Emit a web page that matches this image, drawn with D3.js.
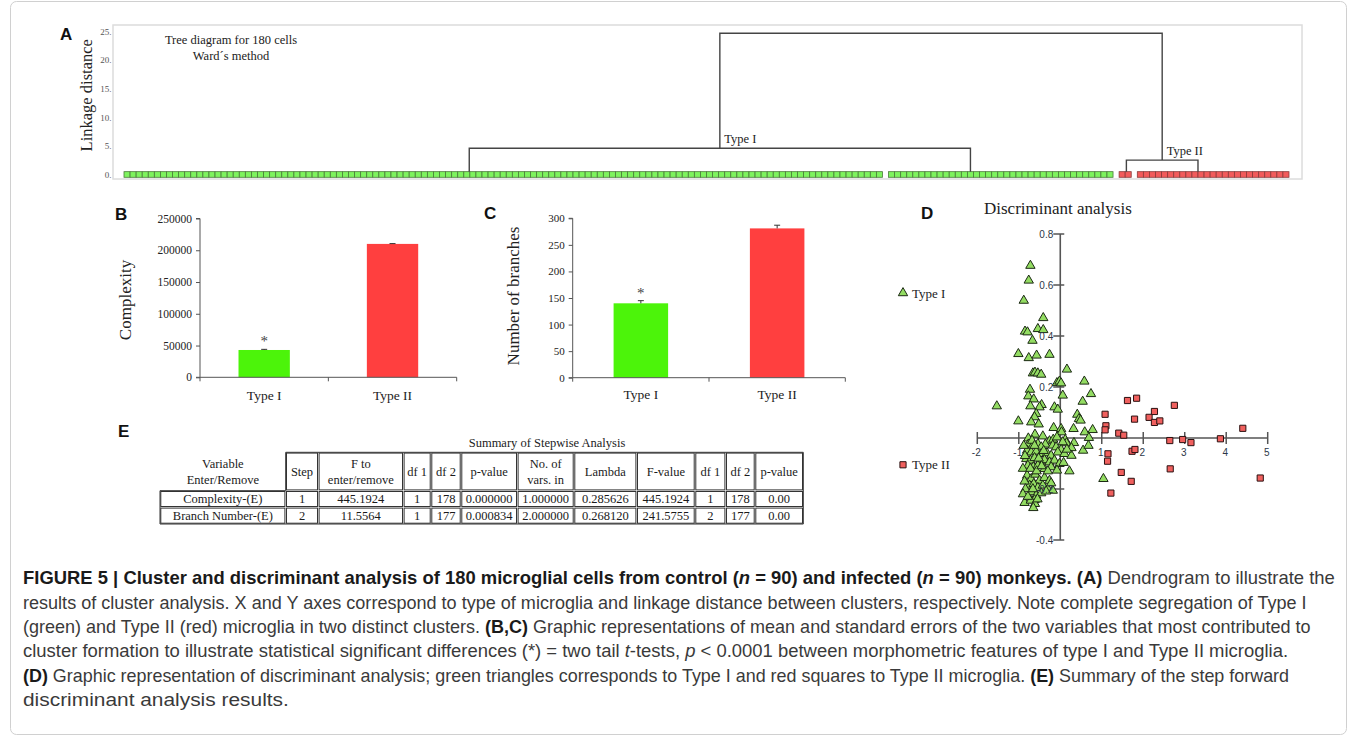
<!DOCTYPE html>
<html><head><meta charset="utf-8">
<script src="https://cdn.jsdelivr.net/npm/d3@7"></script>
<style>body{margin:0;background:#fff}svg{display:block}text{white-space:pre}</style>
</head><body>
<svg id="fig" width="1358" height="736"></svg>
<script>
// ---------- DATA ----------
// Panel A: dendrogram
const leafGroupCounts = [125, 37, 2, 25];
const leafGroupTypes = ["Type I", "Type I", "Type II", "Type II"];
const clusterNames = ["Type I", "Type II"];
const clusterLeftLeaf = [56.9, 165.2];
const clusterRightLeaf = [139.5, 177.0];
const clusterHeights = [4.65, 2.6];
const rootHeight = 24.7;
const linkageTicks = [0, 5, 10, 15, 20, 25];

// Panels B, C: bars
const barCategories = ["Type I", "Type II"];
const complexityMeans = [43000, 210000];
const complexitySE = [1000, 500];
const complexityTicks = [0, 50000, 100000, 150000, 200000, 250000];
const branchMeans = [140, 281];
const branchSE = [5, 6];
const branchTicks = [0, 50, 100, 150, 200, 250, 300];

// Panel D: discriminant scatter
const typeIPoints = [
 [-0.72,0.676],[-0.76,0.618],[-0.88,0.539],[-0.41,0.471],[-0.85,0.418],[-0.79,0.415],[-0.54,0.428],[-0.41,0.424],
 [-0.67,0.382],[-1.01,0.330],[-0.76,0.314],[-0.57,0.324],[-0.26,0.327],[0.16,0.269],[-0.66,0.254],[-0.61,0.257],
 [-0.54,0.254],[-0.46,0.249],[-0.08,0.216],[-0.02,0.222],[0.02,0.215],[0.58,0.222],[0.74,0.173],[0.06,0.167],
 [-0.73,0.190],[-0.77,0.164],[-0.64,0.152],[-0.72,0.125],[-1.53,0.125],[-0.45,0.130],[-0.50,0.121],[-0.14,0.121],
 [-0.06,0.112],[0.54,0.143],[-0.58,0.095],[-0.62,0.082],[-1.01,0.066],[-0.70,0.062],[-0.52,0.054],[0.41,0.092],
 [0.45,0.075],[0.49,0.069],[-0.16,0.040],[0.02,0.036],[0.03,0.023],[0.32,0.036],[0.59,0.023],[0.78,0.032],[0.69,0.001],
 [-0.61,0.014],[-0.77,-0.001],[-0.42,0.007],[-0.26,-0.012],[-0.17,-0.006],[-0.08,0.003],[0.12,-0.007],[0.15,-0.020],
 [0.33,-0.019],[0.06,-0.016],[-0.77,-0.025],[-0.66,-0.029],[-0.54,-0.023],[-0.36,-0.025],[-0.46,-0.036],[-0.18,-0.029],
 [-0.10,-0.036],[0.02,-0.046],[0.27,-0.039],[0.55,-0.049],[-0.80,-0.049],[-0.70,-0.056],[-0.58,-0.053],[-0.46,-0.062],
 [-0.32,-0.059],[-0.22,-0.069],[-0.06,-0.056],[0.10,-0.062],[0.27,-0.069],[-0.82,-0.082],[-0.72,-0.088],[-0.62,-0.078],
 [-0.50,-0.095],[-0.38,-0.086],[-0.26,-0.095],[-0.14,-0.088],[-0.02,-0.101],[0.08,-0.097],[-0.78,-0.108],[-0.65,-0.114],
 [-0.54,-0.108],[-0.38,-0.121],[-0.22,-0.114],[-0.08,-0.127],[0.22,-0.130],[-0.80,-0.147],[-0.70,-0.160],[-0.60,-0.143],
 [-0.50,-0.167],[-0.38,-0.156],[-0.26,-0.167],[-0.74,-0.186],[-0.64,-0.180],[-0.54,-0.195],[-0.42,-0.186],[-0.30,-0.199],
 [-0.18,-0.206],[-0.22,-0.177],[-0.70,-0.212],[-0.58,-0.225],[-0.46,-0.216],[-0.34,-0.209],[-0.86,-0.254],[-0.62,-0.243],
 [-0.71,-0.245],[-0.61,-0.258],[-0.65,-0.274],[0.68,-0.030],[0.16,-0.045],[1.04,-0.160],
 [-0.88,-0.030],[-0.85,-0.070],[-0.90,-0.120],[-0.86,-0.170],[-0.84,-0.200],[-0.68,-0.010],[-0.72,-0.120],[-0.66,-0.200],
 [-0.57,-0.130],[-0.52,-0.080],[-0.90,-0.220],[-0.78,-0.230],[-0.55,-0.240],[-0.62,-0.030],[-0.45,-0.110],[-0.40,-0.050],[-0.30,-0.130]
];
const typeIIPoints = [
 [1.62,0.147],[1.84,0.156],[2.75,0.128],[1.08,0.093],[1.79,0.074],[2.27,0.104],[2.14,0.081],[2.27,0.061],[2.40,0.067],
 [1.10,0.048],[1.08,0.032],[1.41,0.019],[1.53,0.011],[4.40,0.038],[2.64,-0.010],[2.95,-0.006],[3.15,-0.018],[3.86,-0.003],
 [1.15,-0.062],[1.73,-0.052],[1.80,-0.045],[1.14,-0.091],[2.65,-0.121],[1.47,-0.135],[1.71,-0.170],[4.82,-0.157],[1.22,-0.216]
];
const discXTicks = [-2, -1, 0, 1, 2, 3, 4, 5];
const discYTicks = [-0.4, -0.2, 0, 0.2, 0.4, 0.6, 0.8];

// Panel E: table
const tableTitle = "Summary of Stepwise Analysis";
const tableHeaders = [["Variable","Enter/Remove"],["Step"],["F to","enter/remove"],["df 1"],["df 2"],["p-value"],["No. of","vars. in"],["Lambda"],["F-value"],["df 1"],["df 2"],["p-value"]];
const tableRows = [
 ["Complexity-(E)","1","445.1924","1","178","0.000000","1.000000","0.285626","445.1924","1","178","0.00"],
 ["Branch Number-(E)","2","11.5564","1","177","0.000834","2.000000","0.268120","241.5755","2","177","0.00"]
];

// Caption
const captionLines = [
 [["FIGURE 5 | Cluster and discriminant analysis of 180 microglial cells from control (","b"],["n","bi"],[" = 90) and infected (","b"],["n","bi"],[" = 90) monkeys. (A)","b"],[" Dendrogram to illustrate the",""]],
 [["results of cluster analysis. X and Y axes correspond to type of microglia and linkage distance between clusters, respectively. Note complete segregation of Type I",""]],
 [["(green) and Type II (red) microglia in two distinct clusters. ",""],["(B,C)","b"],[" Graphic representations of mean and standard errors of the two variables that most contributed to",""]],
 [["cluster formation to illustrate statistical significant differences (*) = two tail ",""],["t","i"],["-tests, ",""],["p","i"],[" < 0.0001 between morphometric features of type I and Type II microglia.",""]],
 [["(D)","b"],[" Graphic representation of discriminant analysis; green triangles corresponds to Type I and red squares to Type II microglia. ",""],["(E)","b"],[" Summary of the step forward",""]],
 [["discriminant analysis results.",""]]
];

// ---------- DRAWING ----------
const svg = d3.select("#fig");
const SERIF = "'Liberation Serif','Times New Roman',serif";
const SANS = "'Liberation Sans',Arial,sans-serif";
const GREEN_LEAF = "#7ef35e", RED_LEAF = "#f25b5b";
const GREEN_BAR = "#4cf40a", RED_BAR = "#ff3f3f";
svg.append("rect").attr("width",1358).attr("height",736).attr("fill","#fff");

function panelLetter(t,x,y){
  svg.append("text").attr("x",x).attr("y",y).attr("font-family",SANS).attr("font-weight","bold")
    .attr("font-size",17).attr("fill","#111").text(t);
}

// ---- Panel A ----
const totalUnits = d3.sum(leafGroupCounts) + leafGroupCounts.length - 1;
const xA = d3.scaleLinear().domain([0,totalUnits]).range([124,1289]);
const yA = d3.scaleLinear().domain([0,25]).range([175,31.5]);
const gA = svg.append("g");
gA.append("rect").attr("x",113).attr("y",25).attr("width",1189).attr("height",154)
  .attr("fill","none").attr("stroke","#dcdcdc").attr("stroke-width",1.5);
panelLetter("A",60,40);
gA.selectAll("text.ytick").data(linkageTicks).join("text").attr("class","ytick")
  .attr("x",111.5).attr("y",d=>yA(d)+3).attr("text-anchor","end")
  .attr("font-family",SERIF).attr("font-size",9).attr("fill","#555").text(d=>d+".");
gA.append("text").attr("transform",`translate(92,${(yA(0)+yA(25))/2+ -8}) rotate(-90)`)
  .attr("text-anchor","middle").attr("font-family",SERIF).attr("font-size",16.5).attr("fill","#222")
  .text("Linkage distance");
gA.append("text").attr("x",231).attr("y",44).attr("text-anchor","middle").attr("font-family",SERIF)
  .attr("font-size",12.5).attr("fill","#222").text("Tree diagram for 180 cells");
gA.append("text").attr("x",231).attr("y",60).attr("text-anchor","middle").attr("font-family",SERIF)
  .attr("font-size",12.5).attr("fill","#222").text("Ward\u00b4s method");

const leaves = [];
let slot = 0;
leafGroupCounts.forEach((n,gi)=>{
  for(let i=0;i<n;i++){ leaves.push({slot:slot+i, type:leafGroupTypes[gi]}); }
  slot += n + 1;
});
const lw = xA(1)-xA(0);
gA.selectAll("rect.leaf").data(leaves).join("rect").attr("class","leaf")
  .attr("x",d=>xA(d.slot)).attr("y",yA(0.58)).attr("width",lw).attr("height",yA(-0.4)-yA(0.58))
  .attr("fill",d=>d.type==="Type I"?GREEN_LEAF:RED_LEAF)
  .attr("stroke",d=>d.type==="Type I"?"#4a7a3a":"#8a3a3a").attr("stroke-width",0.8);

const leafTop = yA(0.58);
const linkPaths = [];
const clusterMid = [];
clusterNames.forEach((nm,i)=>{
  const xl = xA(clusterLeftLeaf[i]), xr = xA(clusterRightLeaf[i]), yh = yA(clusterHeights[i]);
  linkPaths.push(`M${xl},${leafTop}V${yh}H${xr}V${leafTop}`);
  clusterMid.push((xl+xr)/2);
});
linkPaths.push(`M${clusterMid[0]},${yA(clusterHeights[0])}V${yA(rootHeight)}H${clusterMid[1]}V${yA(clusterHeights[1])}`);
gA.selectAll("path.link").data(linkPaths).join("path").attr("class","link").attr("d",d=>d)
  .attr("fill","none").attr("stroke","#444").attr("stroke-width",1.4);
clusterNames.forEach((nm,i)=>{
  gA.append("text").attr("x",clusterMid[i]+4.5).attr("y",yA(clusterHeights[i])-5)
    .attr("font-family",SERIF).attr("font-size",12.5).attr("fill","#222").text(nm);
});

// ---- Bar panels ----
function barPanel(opt){
  const g = svg.append("g");
  const x = d3.scaleBand().domain(barCategories).range([opt.x0,opt.x1]);
  const y = d3.scaleLinear().domain([0,opt.max]).range([opt.yb,opt.yt]);
  const bw = x.bandwidth()*0.4;
  g.selectAll("rect.bar").data(barCategories).join("rect").attr("class","bar")
    .attr("x",d=>x(d)+x.bandwidth()/2-bw/2).attr("width",bw)
    .attr("y",(d,i)=>y(opt.means[i])).attr("height",(d,i)=>y(0)-y(opt.means[i]))
    .attr("fill",(d,i)=>i===0?GREEN_BAR:RED_BAR);
  barCategories.forEach((c,i)=>{
    const cx = x(c)+x.bandwidth()/2;
    g.append("path").attr("d",`M${cx},${y(opt.means[i])}V${y(opt.means[i]+opt.se[i])}M${cx-3},${y(opt.means[i]+opt.se[i])}H${cx+3}`)
      .attr("stroke","#333").attr("stroke-width",1).attr("fill","none");
  });
  const ya = d3.axisLeft(y).tickValues(opt.ticks).tickSize(4).tickPadding(4).tickFormat(d3.format("d"));
  const gy = g.append("g").attr("transform",`translate(${opt.x0},0)`).call(ya);
  gy.select(".domain").attr("stroke","#555").attr("d",`M-4,${opt.yt}H0V${opt.yb}H-4`);
  gy.selectAll(".tick line").attr("stroke","#555");
  gy.selectAll(".tick text").attr("font-family",SERIF).attr("font-size",opt.tickFont).attr("fill","#222");
  const bounds = [opt.x0, x(barCategories[1]), opt.x1];
  g.append("line").attr("x1",opt.x0).attr("x2",opt.x1).attr("y1",y(0)).attr("y2",y(0)).attr("stroke","#555");
  g.selectAll("line.xt").data(bounds).join("line").attr("class","xt")
    .attr("x1",d=>d).attr("x2",d=>d).attr("y1",y(0)).attr("y2",y(0)+4).attr("stroke","#555");
  g.selectAll("text.xl").data(barCategories).join("text").attr("class","xl")
    .attr("x",d=>x(d)+x.bandwidth()/2).attr("y",opt.labelY).attr("text-anchor","middle")
    .attr("font-family",SERIF).attr("font-size",13.5).attr("fill","#222").text(d=>d);
  const cx0 = x(barCategories[0])+x.bandwidth()/2;
  g.append("text").attr("x",cx0).attr("y",y(opt.means[0]+opt.se[0])-3).attr("text-anchor","middle")
    .attr("font-family",SERIF).attr("font-size",15).attr("fill","#444").text("*");
  g.append("text").attr("transform",`translate(${opt.titleX},${opt.titleY}) rotate(-90)`).attr("text-anchor","middle")
    .attr("font-family",SERIF).attr("font-size",opt.titleFont).attr("fill","#222").text(opt.title);
}
panelLetter("B",115,220);
barPanel({x0:200,x1:456.7,yb:377.3,yt:218.5,max:250000,means:complexityMeans,se:complexitySE,ticks:complexityTicks,
  tickFont:11.5,labelY:400,title:"Complexity",titleX:131,titleY:300,titleFont:17});
panelLetter("C",484,219);
barPanel({x0:572.7,x1:845.3,yb:377.7,yt:218.3,max:300,means:branchMeans,se:branchSE,ticks:branchTicks,
  tickFont:11,labelY:399,title:"Number of branches",titleX:519,titleY:296,titleFont:17});

// ---- Panel D ----
panelLetter("D",921,219);
const gD = svg.append("g");
const xD = d3.scaleLinear().domain([-2,5]).range([977.3,1267.7]);
const yD = d3.scaleLinear().domain([-0.4,0.8]).range([540,234]);
gD.append("text").attr("x",984).attr("y",214).attr("font-family",SERIF).attr("font-size",17).attr("fill","#222")
  .text("Discriminant analysis");
gD.append("line").attr("x1",xD(-2)).attr("x2",xD(5)).attr("y1",yD(0)).attr("y2",yD(0)).attr("stroke","#555").attr("stroke-width",1.6);
gD.append("line").attr("x1",xD(0)).attr("x2",xD(0)).attr("y1",yD(0.8)).attr("y2",yD(-0.4)).attr("stroke","#555").attr("stroke-width",1.6);
gD.selectAll("line.xt").data(discXTicks.filter(d=>d!==0)).join("line").attr("class","xt")
  .attr("x1",d=>xD(d)).attr("x2",d=>xD(d)).attr("y1",yD(0)-6).attr("y2",yD(0)+6).attr("stroke","#555").attr("stroke-width",1.5);
gD.selectAll("line.yt").data(discYTicks.filter(d=>d!==0)).join("line").attr("class","yt")
  .attr("x1",xD(0)-7).attr("x2",xD(0)+4).attr("y1",d=>yD(d)).attr("y2",d=>yD(d)).attr("stroke","#555").attr("stroke-width",1.5);
const tri = d3.symbol().type(d3.symbolTriangle).size(38);
const sq = d3.symbol().type(d3.symbolSquare).size(38);
gD.selectAll("path.t1").data(typeIPoints).join("path").attr("class","t1")
  .attr("transform",d=>`translate(${xD(d[0])},${yD(d[1])})`).attr("d",tri)
  .attr("fill","#93dc62").attr("stroke","#1c2a14").attr("stroke-width",1);
gD.selectAll("path.t2").data(typeIIPoints).join("path").attr("class","t2")
  .attr("transform",d=>`translate(${xD(d[0])},${yD(d[1])})`).attr("d",sq)
  .attr("fill","#f0605e").attr("stroke","#2a1010").attr("stroke-width",1);
gD.selectAll("text.xl").data(discXTicks.filter(d=>d!==0)).join("text").attr("class","xl")
  .attr("x",d=>xD(d)-1).attr("y",yD(0)+18).attr("text-anchor","middle").attr("font-family",SANS)
  .attr("font-size",10).attr("fill","#2d3748").text(d=>d);
gD.selectAll("text.yl").data(discYTicks.filter(d=>d!==0)).join("text").attr("class","yl")
  .attr("x",xD(0)-7).attr("y",d=>yD(d)+4).attr("text-anchor","end").attr("font-family",SANS)
  .attr("font-size",10).attr("fill","#2d3748").text(d=>d.toFixed(1));
const legY = [yD(0.6)+8, yD(-0.105)];
gD.append("path").attr("transform",`translate(903,${legY[0]})`).attr("d",tri).attr("fill","#93dc62").attr("stroke","#1c2a14");
gD.append("text").attr("x",912).attr("y",legY[0]+4.5).attr("font-family",SERIF).attr("font-size",13).attr("fill","#222").text("Type I");
gD.append("path").attr("transform",`translate(903,${legY[1]})`).attr("d",sq).attr("fill","#f0605e").attr("stroke","#2a1010");
gD.append("text").attr("x",912).attr("y",legY[1]+4.5).attr("font-family",SERIF).attr("font-size",13).attr("fill","#222").text("Type II");

// ---- Panel E ----
panelLetter("E",118,437);
const gE = svg.append("g");
const colEdges = [160,285.7,318.3,403.3,431,461,517.3,574,636.7,695,725.7,755,803.3];
const rowEdges = [452.3,490.7,507.3,524];
gE.append("text").attr("x",547).attr("y",447).attr("text-anchor","middle").attr("font-family",SERIF)
  .attr("font-size",12.5).attr("fill","#222").text(tableTitle);
const cells = [];
tableHeaders.forEach((h,ci)=>cells.push({r:0,c:ci,lines:h,border:ci>0}));
tableRows.forEach((row,ri)=>row.forEach((v,ci)=>cells.push({r:ri+1,c:ci,lines:[v],border:true})));
cells.forEach(d=>{
  const x0=colEdges[d.c], x1=colEdges[d.c+1], y0=rowEdges[d.r], y1=rowEdges[d.r+1];
  if(d.border){
    gE.append("rect").attr("x",x0+0.8).attr("y",y0+0.8).attr("width",x1-x0-1.6).attr("height",y1-y0-1.6)
      .attr("fill","none").attr("stroke","#333").attr("stroke-width",1);
  }
  const cx=(x0+x1)/2, cy=(y0+y1)/2;
  const n=d.lines.length;
  d.lines.forEach((t,li)=>{
    gE.append("text").attr("x",cx).attr("y",cy+4.3+(li-(n-1)/2)*16.5).attr("text-anchor","middle")
      .attr("font-family",SERIF).attr("font-size",12.5).attr("fill","#1a1a1a").text(t);
  });
});
gE.append("path").attr("d",`M${colEdges[1]},${rowEdges[0]}H${colEdges[12]}V${rowEdges[3]}H${colEdges[0]}V${rowEdges[1]}H${colEdges[1]}Z`)
  .attr("fill","none").attr("stroke","#333").attr("stroke-width",1);

// ---- Caption ----
const gC = svg.append("g");
const capBase = [584,608.5,633,657.3,681.8,706];
const capWidth = [1312,1285,1288,1266,1267,302];
const capTexts = captionLines.map(segs=>{
  const t = gC.append("text").attr("font-family",SANS).attr("font-size",17.5).attr("fill","#3a3a3a");
  segs.forEach(s=>{
    const sp = t.append("tspan").text(s[0]);
    if(s[1].includes("b")) sp.attr("font-weight","bold").attr("fill","#1a1a1a");
    if(s[1].includes("i")) sp.attr("font-style","italic");
  });
  return t;
});
const capScales = capTexts.map((t,li)=>capWidth[li]/t.node().getComputedTextLength());
// the short last line uses a blend of its own fit and the regular-text line fit
capScales[5] = (capScales[5] + capScales[1]) / 2;
capTexts.forEach((t,li)=>t.attr("transform",`translate(23,${capBase[li]}) scale(${capScales[li]},1)`));

// figure border
svg.append("rect").attr("x",10.5).attr("y",1.5).attr("width",1336).attr("height",733).attr("rx",6)
  .attr("fill","none").attr("stroke","#d0d0d0").attr("stroke-width",1);
</script>
</body></html>
